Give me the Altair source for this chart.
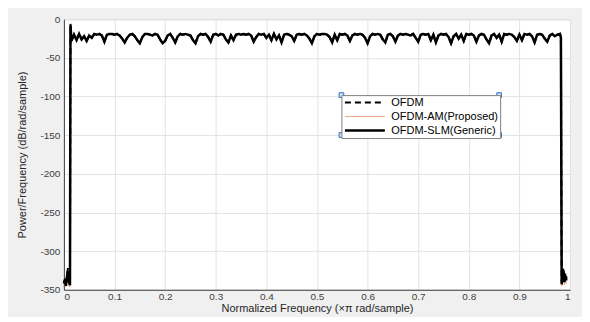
import altair as alt
import numpy as np
import pandas as pd

series_names = ["OFDM", "OFDM-AM(Proposed)", "OFDM-SLM(Generic)"]

# shared in-band ripple (dB/rad/sample), frequency 0.015 .. 0.980 step 0.005
ripple_db = [
    -28, -20, -27, -19, -26, -22, -28, -21, -24, -19,
    -20, -19, -21, -29, -20, -19, -19, -20, -19, -21,
    -25, -30, -24, -20, -19, -22, -27, -31, -23, -19,
    -19, -20, -21, -19, -20, -26, -31, -28, -21, -19,
    -24, -30, -22, -19, -20, -19, -20, -21, -27, -31,
    -22, -19, -20, -19, -23, -29, -20, -19, -21, -19,
    -20, -26, -30, -21, -27, -20, -19, -20, -19, -20,
    -19, -21, -29, -23, -19, -20, -19, -24, -20, -27,
    -19, -26, -21, -30, -20, -19, -20, -22, -28, -20,
    -19, -20, -19, -21, -25, -31, -22, -19, -20, -19,
    -19, -20, -23, -30, -20, -27, -19, -20, -19, -21,
    -28, -21, -19, -20, -19, -20, -24, -31, -22, -19,
    -20, -19, -20, -26, -30, -20, -19, -22, -29, -21,
    -19, -20, -19, -20, -21, -19, -24, -29, -20, -19,
    -20, -19, -27, -20, -30, -21, -19, -20, -19, -23,
    -31, -22, -19, -25, -20, -28, -19, -20, -19, -21,
    -29, -21, -19, -20, -26, -31, -21, -19, -24, -20,
    -29, -19, -20, -19, -20, -23, -28, -20, -27, -19,
    -20, -19, -22, -30, -20, -19, -20, -25, -29, -21,
    -19, -22, -20, -19,
]
ripple_freq = np.round(0.015 + 0.005 * np.arange(len(ripple_db)), 4)

left_freq = [0.0, 0.002, 0.004, 0.006, 0.008, 0.010, 0.012, 0.013]
right_freq = [0.982, 0.9835, 0.985, 0.987, 0.989, 0.991, 0.993]

ofdm_left = [-341, -336, -343, -330, -322, -338, -341, -6]
ofdm_right = [-22, -340, -330, -322, -338, -328, -335]
am_left = [-346, -340, -344, -336, -330, -345, -346, -12]
am_right = [-25, -345, -338, -330, -344, -336, -342]
slm_left = [-342, -338, -345, -333, -326, -340, -344, -8]
slm_right = [-24, -343, -335, -325, -340, -332, -338]

edges = {
    "OFDM": (ofdm_left, ofdm_right),
    "OFDM-AM(Proposed)": (am_left, am_right),
    "OFDM-SLM(Generic)": (slm_left, slm_right),
}

series_colors = ["#000000", "#ee9a72", "#000000"]
series_dash = [[6, 4], [1, 0], [1, 0]]
series_width = [2, 1, 2.5]

rows = []
for name in series_names:
    lv, rv = edges[name]
    f = list(left_freq) + list(ripple_freq) + list(right_freq)
    v = list(lv) + list(ripple_db) + list(rv)
    for fi, vi in zip(f, v):
        rows.append({"series": name, "freq": float(fi), "psd": vi})
df = pd.DataFrame(rows)

x_ticks = [0, 0.1, 0.2, 0.3, 0.4, 0.5, 0.6, 0.7, 0.8, 0.9, 1]
y_ticks = [0, -50, -100, -150, -200, -250, -300, -350]

# legend selection handles (legend box corners, in plot pixels)
handle_x = [278, 436, 278, 436]
handle_y = [76, 76, 116, 116]


def leg():
    return alt.Legend(
        title=None,
        orient="none",
        legendX=278,
        legendY=76,
        symbolType="M-5,0H5",
        symbolSize=64,
        symbolOffset=16,
        labelOffset=21,
        labelFontSize=11,
        labelFont="Liberation Sans",
        labelColor="#000000",
        rowPadding=2,
        padding=2,
        strokeColor="#808080",
        fillColor="#ffffff",
        cornerRadius=0,
    )


lines = alt.Chart(df).mark_line(interpolate="linear").encode(
    x=alt.X("freq:Q", scale=alt.Scale(domain=[0, 1], nice=False),
            axis=alt.Axis(values=x_ticks, title="Normalized Frequency (\u00d7\u03c0 rad/sample)",
                          labelExpr="datum.value + ''")),
    y=alt.Y("psd:Q", scale=alt.Scale(domain=[-350, 0], nice=False),
            axis=alt.Axis(values=y_ticks, title="Power/Frequency (dB/rad/sample)",
                          labelExpr="datum.value + ''")),
    color=alt.Color("series:N", scale=alt.Scale(domain=series_names,
                    range=series_colors), legend=leg()),
    strokeDash=alt.StrokeDash("series:N", scale=alt.Scale(domain=series_names,
                              range=series_dash), legend=leg()),
    strokeWidth=alt.StrokeWidth("series:N", scale=alt.Scale(type="ordinal", domain=series_names,
                                range=series_width), legend=leg()),
    order="freq:Q",
)

handles = alt.Chart(pd.DataFrame({"hx": handle_x, "hy": handle_y})).mark_square(
    size=22, fill="#cfe0f3", stroke="#2f6fbf", strokeWidth=1, opacity=1
).encode(
    x=alt.X("hx:Q", scale=None, axis=None),
    y=alt.Y("hy:Q", scale=None, axis=None),
)

chart = alt.layer(lines, handles).resolve_scale(x="independent", y="independent").properties(
    width=507,
    height=271,
    background="#f0f0f0",
    padding={"left": 56, "top": 11, "right": 12, "bottom": 27},
    autosize=alt.AutoSizeParams(type="none"),
).configure_view(
    fill="#ffffff", stroke="#d0d0d0", strokeWidth=1
).configure_axis(
    labelFont="Liberation Sans", titleFont="Liberation Sans",
    labelFontSize=10, titleFontSize=11,
    labelColor="#404040", titleColor="#262626",
    titleFontWeight="normal",
    domainColor="#404040", grid=True, gridColor="#e3e3e3",
    ticks=False, labelPadding=4,
).configure_axisY(
    titlePadding=12,
).configure_axisX(
    labelPadding=2, titleY=13, titleBaseline="top",
)

chart.save("out.html", embed_options={"renderer": "svg", "actions": False})
